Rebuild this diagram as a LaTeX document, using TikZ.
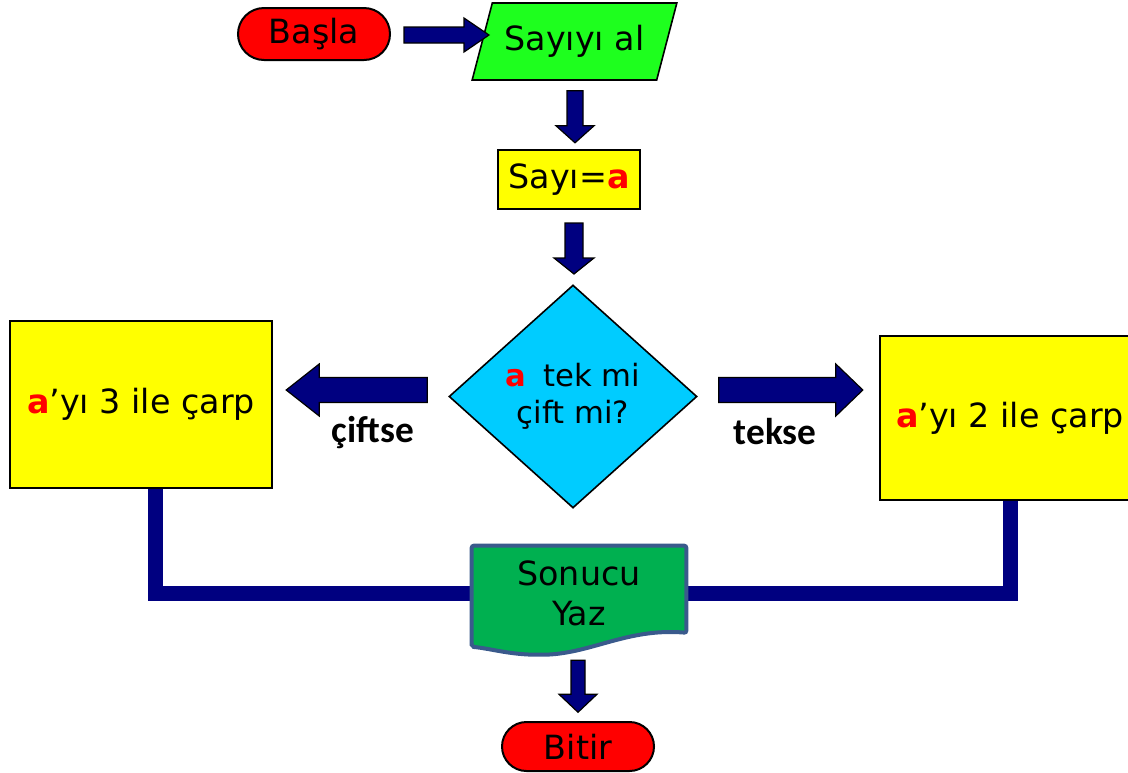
\documentclass[tikz,border=0pt]{standalone}
\usepackage{fontspec}
\setmainfont{DejaVu Sans}
\newfontfamily\labelfont{Carlito}
\usetikzlibrary{shapes.geometric,shapes.misc,calc,backgrounds}
\definecolor{navy}{RGB}{0,0,128}
\definecolor{startred}{RGB}{255,0,0}
\definecolor{inputgreen}{RGB}{30,255,30}
\definecolor{boxyellow}{RGB}{255,255,0}
\definecolor{decisioncyan}{RGB}{0,204,255}
\definecolor{docgreen}{RGB}{0,176,80}
\definecolor{docedge}{RGB}{58,90,140}

% block arrow: base point, direction, length, shaft half width, head half width, head length
\newcommand\blockarrow[6]{%
  \draw[barrow,shift={#1},rotate=#2] (0,-#4) -- ({#3-#6},-#4) -- ({#3-#6},-#5) -- (#3,0)
    -- ({#3-#6},#5) -- ({#3-#6},#4) -- (0,#4) -- cycle;}
\newcommand\redA{{\bfseries\color{red}a}}

\begin{document}
\begin{tikzpicture}[x=0.75pt,y=-0.75pt,
  every node/.style={font=\fontsize{25pt}{30pt}\selectfont, text=black},
  term/.style={rounded rectangle, draw=black, line width=1.5pt, fill=startred, inner sep=0pt},
  iobox/.style={trapezium, trapezium left angle=62, trapezium right angle=118, trapezium stretches=true,
    draw=black, line width=1.2pt, fill=inputgreen, inner sep=0pt},
  procbox/.style={rectangle, draw=black, line width=1.5pt, fill=boxyellow, inner sep=0pt, align=center},
  decbox/.style={diamond, draw=black, line width=1.2pt, fill=decisioncyan, inner sep=0pt, align=center},
  barrow/.style={draw=black, line width=0.9pt, fill=navy, line join=miter},
  pipe/.style={draw=navy, line width=11.25pt, line join=miter},
  lbl/.style={font=\labelfont\bfseries\fontsize{28pt}{32pt}\selectfont}]
\useasboundingbox (0,0) rectangle (1128,772);
\clip (0,0) rectangle (1128,772);

% nodes
\node[term, minimum width=114pt, minimum height=39pt] (start) at (314,34) {Başla};
\node[iobox, minimum width=153.75pt, minimum height=57.75pt] (read) at (574.5,41.5) {Sayıyı al};
\node[procbox, minimum width=106.5pt, minimum height=44.25pt] (assign) at (569,179.5) {Sayı=\redA};
\node[decbox, minimum width=186pt, minimum height=167.25pt,
  font=\fontsize{23pt}{28pt}\selectfont] (test) at (573,396.5) {\redA\hspace{0.55em}tek mi\\çift mi?};
\node[procbox, minimum width=196.5pt, minimum height=125.25pt] (times3) at (141,404.5) {\redA’yı 3 ile çarp};
\node[procbox, minimum width=195pt, minimum height=123pt] (times2) at (1010,418) {\redA’yı 2 ile çarp};
\node[align=center, minimum width=160.5pt, minimum height=70.5pt, inner sep=0pt] (out) at (579,593) {Sonucu\\Yaz};
\node[term, minimum width=114pt, minimum height=36.75pt] (stop) at (578,746.5) {Bitir};

\node[lbl] (even) at (373,433) {çiftse};
\node[lbl] (odd) at (775,432) {tekse};

% output document shape and the pipes feeding it
\begin{pgfonlayer}{background}
  \draw[pipe] ($(times3.south)+(14,0)$) |- (out.west);
  \draw[pipe] (times2.south) |- (out.east);
  \draw[fill=docgreen, draw=docedge, line width=3pt, rounded corners=1.5pt]
    (out.north west) -- (out.north east) -- ($(out.north east)+(0,87)$)
    .. controls +(-60,-5) and +(50,0) .. ($(out.north west)+(68,109)$)
    .. controls +(-30,0) and +(20,2) .. ($(out.north west)+(0,101)$) -- cycle;
\end{pgfonlayer}

% block arrows
\blockarrow{($(start.east)+(13,1)$)}{0}{85}{8}{17}{25}
\blockarrow{($(read.south)+(0.5,10)$)}{-90}{52}{8}{19}{17}
\blockarrow{($(assign.south)+(5,13)$)}{-90}{51}{9}{20}{16}
\blockarrow{($(test.west)+(-21,-6.5)$)}{180}{141}{12.5}{26}{33}
\blockarrow{($(test.east)+(21,-6.5)$)}{0}{144}{12.5}{26}{27}
\blockarrow{($(out.south)+(-1,20)$)}{-90}{52}{7}{19}{18}
\end{tikzpicture}
\end{document}
